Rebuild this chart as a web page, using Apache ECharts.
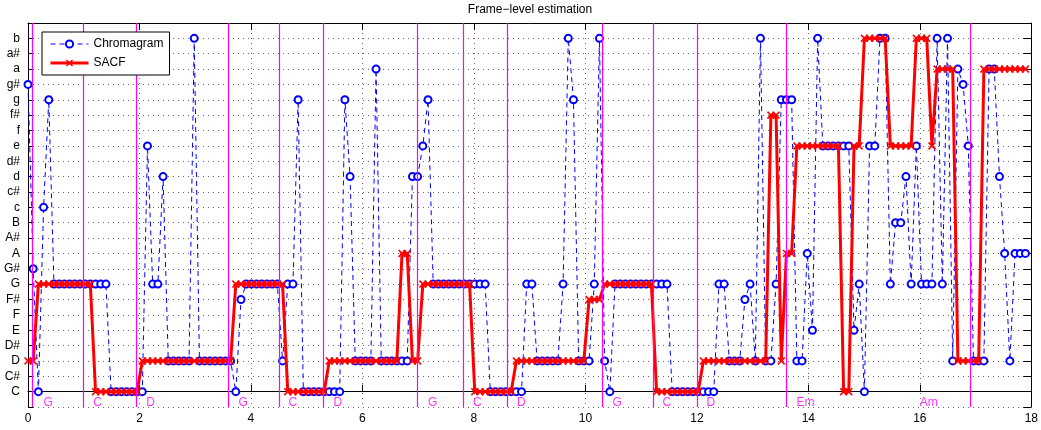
<!DOCTYPE html>
<html>
<head>
<meta charset="utf-8">
<script src="https://cdn.jsdelivr.net/npm/echarts@6/dist/echarts.min.js"></script>
<style>
  html, body { margin: 0; padding: 0; background: #fff; }
  #chart { width: 1041px; height: 430px; }
</style>
</head>
<body>
<div id="chart"></div>
<script>
// pitch classes, low octave then high octave (index 0..23)
const noteNames = ['C', 'C#', 'D', 'D#', 'E', 'F', 'F#', 'G', 'G#', 'A', 'A#', 'B',
  'c', 'c#', 'd', 'd#', 'e', 'f', 'f#', 'g', 'g#', 'a', 'a#', 'b']

// frame hop in seconds
const hop = 0.0932

// per-frame estimate, index into noteNames
const chroma = [
  20, 8, 0, 12, 19,
  7, 7, 7, 7, 7, 7, 7, 7, 7, 7, 7,
  0, 0, 0, 0, 0, 0, 0,
  16, 7, 7, 14,
  2, 2, 2, 2, 2,
  23,
  2, 2, 2, 2, 2, 2, 2,
  0, 6,
  7, 7, 7, 7, 7, 7, 7,
  2, 7, 7, 19,
  0, 0, 0, 0, 0, 0, 0, 0,
  19, 14,
  2, 2, 2, 2,
  21,
  2, 2, 2, 2, 2, 2,
  14, 14, 16, 19,
  7, 7, 7, 7, 7, 7, 7, 7, 7, 7, 7,
  0, 0, 0, 0, 0, 0, 0,
  7, 7,
  2, 2, 2, 2, 2,
  7, 23, 19,
  2, 2, 2,
  7, 23, 2, 0,
  7, 7, 7, 7, 7, 7, 7, 7, 7, 7, 7,
  0, 0, 0, 0, 0, 0, 0, 0, 0,
  7, 7,
  2, 2, 2,
  6, 7, 2, 23,
  2, 2,
  7,
  19, 19, 19,
  2, 2, 9, 4, 23,
  16, 16, 16, 16, 16, 16,
  4, 7, 0,
  16, 16,
  23, 23,
  7, 11, 11, 14, 7, 16,
  7, 7, 7,
  23, 7, 23, 2, 21, 20, 16,
  2, 2, 2,
  21, 21, 14, 9, 2,
  9, 9, 9,
]

const sacf = [
  2, 2,
  7, 7, 7, 7, 7, 7, 7, 7, 7, 7, 7,
  0, 0, 0, 0, 0, 0, 0, 0, 0,
  2, 2, 2, 2, 2, 2, 2, 2, 2, 2, 2, 2, 2, 2, 2, 2, 2, 2,
  7, 7, 7, 7, 7, 7, 7, 7, 7, 7,
  0, 0, 0, 0, 0, 0, 0, 0,
  2, 2, 2, 2, 2, 2, 2, 2, 2, 2, 2, 2, 2, 2,
  9, 9,
  2, 2,
  7, 7, 7, 7, 7, 7, 7, 7, 7, 7,
  0, 0, 0, 0, 0, 0, 0, 0,
  2, 2, 2, 2, 2, 2, 2, 2, 2, 2, 2, 2, 2, 2,
  6, 6, 6,
  7, 7, 7, 7, 7, 7, 7, 7, 7, 7,
  0, 0, 0, 0, 0, 0, 0, 0, 0,
  2, 2, 2, 2, 2, 2, 2, 2, 2, 2, 2, 2, 2,
  18, 18,
  2,
  9, 9,
  16, 16, 16, 16, 16, 16, 16, 16, 16,
  0, 0,
  16, 16,
  23, 23, 23, 23, 23,
  16, 16, 16, 16, 16,
  23, 23, 23,
  16,
  21, 21, 21, 21,
  2, 2, 2, 2, 2,
  21, 21, 21, 21, 21, 21, 21, 21, 21,
]

// chord boundaries (magenta) and chord label positions
const chordLines = [0.077, 0.99, 1.94, 3.6, 4.5, 5.29, 6.99, 7.8, 8.6, 10.3, 11.21, 12.0, 13.61, 16.9]
const chordNames = ['G', 'C', 'D', 'G', 'C', 'D', 'G', 'C', 'D', 'G', 'C', 'D', 'Em', 'Am']
const chordLabelTimes = [0.36, 1.25, 2.2, 3.86, 4.75, 5.56, 7.26, 8.06, 8.85, 10.57, 11.46, 12.25, 13.95, 16.16]

const font = 'Liberation Sans, Arial, Helvetica, sans-serif'
const xMark = 'path://M0,1.5 L1.5,0 L5,3.5 L8.5,0 L10,1.5 L6.5,5 L10,8.5 L8.5,10 L5,6.5 L1.5,10 L0,8.5 L3.5,5 Z'

const toPoints = (arr) => arr.map((v, i) => [+(i * hop).toFixed(4), v])

const chart = echarts.init(document.getElementById('chart'))

const dotted = { color: '#666', width: 1, type: [1, 4] }

chart.setOption({
  animation: false,
  backgroundColor: '#fff',
  textStyle: { fontFamily: font },
  graphic: [{
    type: 'text',
    x: 530,
    y: 10,
    style: {
      text: 'Frame\u2212level estimation',
      fontSize: 12,
      fontFamily: font,
      fill: '#000',
      textAlign: 'center',
      textVerticalAlign: 'middle',
    },
  }],
  legend: {
    data: [
      { name: 'Chromagram', lineStyle: { color: '#0000ff', width: 1, type: [5, 4] } },
      { name: 'SACF', lineStyle: { color: '#ff0000', width: 3 } },
    ],
    orient: 'vertical',
    left: 42,
    top: 32,
    itemWidth: 38,
    itemHeight: 9,
    itemGap: 7,
    padding: [6, 6, 6, 7],
    backgroundColor: '#fff',
    borderColor: '#000',
    borderWidth: 1,
    borderRadius: 0,
    textStyle: { fontSize: 12, color: '#000', fontFamily: font },
    z: 10,
  },
  grid: { left: 28, right: 8, top: 23, bottom: 23, containLabel: false },
  xAxis: [
    {
      type: 'value',
      min: 0,
      max: 18,
      interval: 2,
      axisLine: { show: true, lineStyle: { color: '#000', width: 1 } },
      axisTick: { show: true, inside: true, length: 7, lineStyle: { color: '#000' } },
      axisLabel: { color: '#000', fontSize: 12, margin: 6, fontFamily: font },
      splitLine: { show: true, lineStyle: dotted },
    },
    {
      type: 'value',
      position: 'top',
      min: 0,
      max: 18,
      interval: 2,
      axisLine: { show: true, onZero: false, lineStyle: { color: '#000', width: 1 } },
      axisTick: { show: true, inside: true, length: 7, lineStyle: { color: '#000' } },
      axisLabel: { show: false },
      splitLine: { show: false },
    },
  ],
  yAxis: [
    {
      type: 'value',
      min: -1,
      max: 24,
      interval: 1,
      axisLine: { show: true, onZero: false, lineStyle: { color: '#000', width: 1 } },
      axisTick: { show: true, inside: true, length: 5, lineStyle: { color: '#000' } },
      axisLabel: {
        color: '#000',
        fontSize: 12,
        margin: 8,
        fontFamily: font,
        formatter: (v) => noteNames[v] || '',
      },
      splitLine: { show: true, lineStyle: dotted },
    },
    {
      type: 'value',
      position: 'right',
      min: -1,
      max: 24,
      interval: 1,
      axisLine: { show: true, onZero: false, lineStyle: { color: '#000', width: 1 } },
      axisTick: { show: true, inside: true, length: 8, lineStyle: { color: '#000' } },
      axisLabel: { show: false },
      splitLine: { show: false },
    },
  ],
  series: [
    {
      name: 'chords',
      type: 'scatter',
      symbolSize: 0,
      silent: true,
      z: 1,
      data: chordNames.map((c, i) => ({ name: c, value: [chordLabelTimes[i], -0.75] })),
      label: {
        show: true,
        position: 'inside',
        formatter: '{b}',
        color: '#ff00ff',
        fontSize: 12,
        fontFamily: font,
      },
      markLine: {
        silent: true,
        symbol: ['none', 'none'],
        label: { show: false },
        lineStyle: { color: '#ff00ff', width: 1.2, type: 'solid' },
        data: chordLines.map((t) => ({ xAxis: t })),
      },
    },
    {
      name: 'Chromagram',
      type: 'line',
      data: toPoints(chroma),
      symbol: 'emptyCircle',
      symbolSize: 7,
      showAllSymbol: true,
      z: 3,
      lineStyle: { color: '#0000ff', width: 1, type: [5, 4] },
      itemStyle: { color: '#0000ff', borderColor: '#0000ff', borderWidth: 1 },
    },
    {
      name: 'SACF',
      type: 'line',
      data: toPoints(sacf),
      symbol: xMark,
      symbolSize: 8,
      showAllSymbol: true,
      z: 4,
      lineStyle: { color: '#ff0000', width: 3 },
      itemStyle: { color: '#ff0000' },
    },
  ],
})

window.addEventListener('resize', () => chart.resize())
</script>
</body>
</html>
